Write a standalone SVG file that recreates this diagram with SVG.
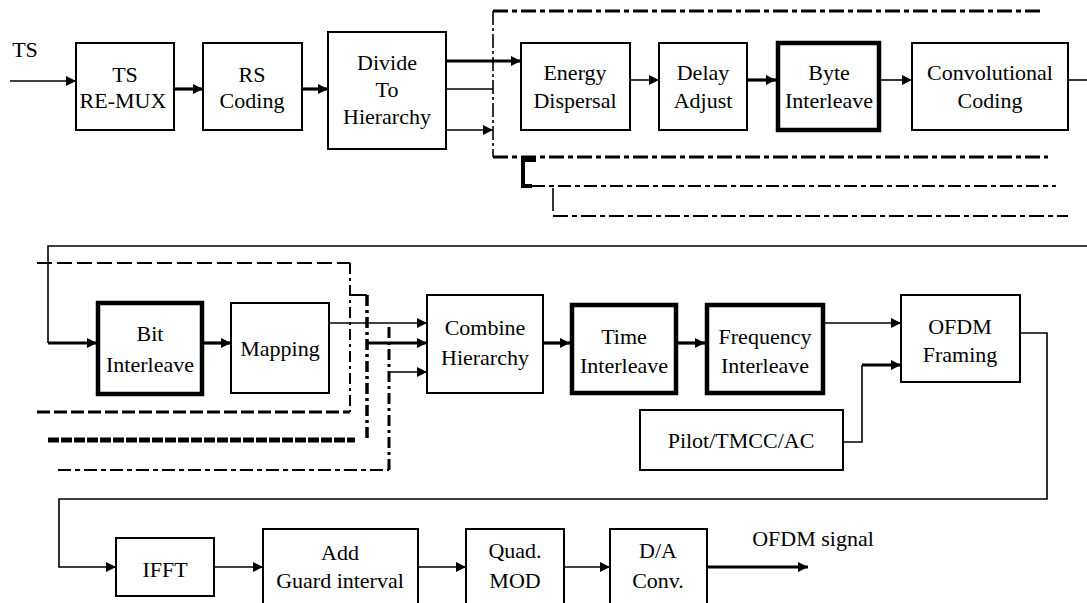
<svg xmlns="http://www.w3.org/2000/svg" width="1087" height="603" viewBox="0 0 1087 603">
<style>
.box{fill:#fff;stroke:#000;stroke-width:2}
.tbox{fill:#fff;stroke:#000;stroke-width:4.5}
.ln{fill:none;stroke:#000;stroke-width:1.6}
.lt{fill:none;stroke:#000;stroke-width:3.2}
.d{fill:none;stroke:#000}
text{font-family:'Liberation Serif','Times New Roman',Times,serif;font-size:22px;fill:#000;text-anchor:middle}
</style>
<defs>
<marker id="a" markerUnits="userSpaceOnUse" markerWidth="11" markerHeight="10" refX="10" refY="5" orient="auto"><path d="M0,0 L10,5 L0,10 z" fill="#000"/></marker>
</defs>
<rect width="1087" height="603" fill="#fff"/>

<g id="dashed">
<path class="d" stroke-width="3" stroke-dasharray="15 4 5 4" d="M493,11 H1040"/>
<path class="d" stroke-width="1.6" stroke-dasharray="14 3 3 3" d="M493,11 V157"/>
<path class="d" stroke-width="3" stroke-dasharray="15 4 5 4" d="M493,157 H1048"/>
<path class="d" stroke-width="4" d="M536,160 H523 V186 H532"/>
<path class="d" stroke-width="2" stroke-dasharray="13 4 5 4" d="M532,186 H1056"/>
<path class="d" stroke-width="1.6" d="M553,188 V211"/>
<path class="d" stroke-width="2" stroke-dasharray="15 4 5 4" d="M553,216 H1068"/>
<path class="d" stroke-width="2" stroke-dasharray="15 5" d="M37,263 H350"/>
<path class="d" stroke-width="2" stroke-dasharray="11 4 3 4" d="M350,263 V412"/>
<path class="d" stroke-width="3" stroke-dasharray="13 4" d="M37,412 H350"/>
<path class="d" stroke-width="5" stroke-dasharray="11 2" d="M48,440 H355"/>
<path class="d" stroke-width="2" d="M350,295 H367"/>
<path class="d" stroke-width="3.5" stroke-dasharray="11 4 3 4" d="M367,295 V442"/>
<path class="d" stroke-width="2" stroke-dasharray="13 4 5 4" d="M58,470 H389"/>
<path class="d" stroke-width="3" stroke-dasharray="11 4 3 4" d="M389,470 V323"/>
</g>

<g id="connectors">
<path class="ln" d="M10,81 H76" marker-end="url(#a)"/>
<path class="lt" d="M174,89 H203" marker-end="url(#a)"/>
<path class="lt" d="M302,89 H328" marker-end="url(#a)"/>
<path class="lt" d="M446,61 H521" marker-end="url(#a)"/>
<path class="ln" d="M446,89 H493"/>
<path class="ln" d="M446,130 H493" marker-end="url(#a)"/>
<path class="ln" d="M630,80 H659" marker-end="url(#a)"/>
<path class="lt" d="M747,80 H776" marker-end="url(#a)"/>
<path class="ln" d="M880,80 H912" marker-end="url(#a)"/>
<path class="ln" d="M1068,80 H1087"/>
<path class="ln" d="M1087,246 H48 V343"/>
<path class="lt" d="M48,343 H97" marker-end="url(#a)"/>
<path class="lt" d="M204,343 H231" marker-end="url(#a)"/>
<path class="ln" d="M329,323 H427" marker-end="url(#a)"/>
<path class="lt" d="M367,343 H427" marker-end="url(#a)"/>
<path class="ln" d="M389,372 H427" marker-end="url(#a)"/>
<path class="lt" d="M543,343 H570" marker-end="url(#a)"/>
<path class="lt" d="M678,343 H705" marker-end="url(#a)"/>
<path class="ln" d="M825,323 H901" marker-end="url(#a)"/>
<path class="ln" d="M843,442 H862 V365"/>
<path class="lt" d="M862,365 H901" marker-end="url(#a)"/>
<path class="ln" d="M1020,333 H1047 V499 H59 V567 H116" marker-end="url(#a)"/>
<path class="ln" d="M214,567 H263" marker-end="url(#a)"/>
<path class="ln" d="M418,567 H466" marker-end="url(#a)"/>
<path class="ln" d="M564,567 H610" marker-end="url(#a)"/>
<path class="lt" d="M707,567 H808" marker-end="url(#a)"/>
</g>

<g id="label-ts"><text x="25" y="57">TS</text></g>
<g id="label-ofdm-signal"><text x="813" y="546">OFDM signal</text></g>

<g id="ts-remux"><rect class="box" x="76" y="43" width="98" height="87"/><text x="125" y="82">TS</text><text x="123" y="108">RE-MUX</text></g>
<g id="rs-coding"><rect class="box" x="203" y="43" width="99" height="87"/><text x="252" y="82">RS</text><text x="252" y="108">Coding</text></g>
<g id="divide"><rect class="box" x="328" y="32" width="118" height="117"/><text x="387" y="70">Divide</text><text x="387" y="97">To</text><text x="387" y="124">Hierarchy</text></g>
<g id="energy"><rect class="box" x="521" y="43" width="109" height="87"/><text x="575" y="80">Energy</text><text x="575" y="108">Dispersal</text></g>
<g id="delay"><rect class="box" x="659" y="43" width="88" height="87"/><text x="703" y="80">Delay</text><text x="703" y="108">Adjust</text></g>
<g id="byte"><rect class="tbox" x="778" y="43" width="101" height="87"/><text x="829" y="80">Byte</text><text x="829" y="108">Interleave</text></g>
<g id="conv"><rect class="box" x="912" y="43" width="156" height="87"/><text x="990" y="80">Convolutional</text><text x="990" y="108">Coding</text></g>

<g id="bit"><rect class="tbox" x="98" y="303" width="104" height="91"/><text x="150" y="341">Bit</text><text x="150" y="372">Interleave</text></g>
<g id="mapping"><rect class="box" x="231" y="303" width="98" height="90"/><text x="280" y="356">Mapping</text></g>
<g id="combine"><rect class="box" x="427" y="295" width="116" height="98"/><text x="485" y="335">Combine</text><text x="485" y="365">Hierarchy</text></g>
<g id="time"><rect class="tbox" x="572" y="305" width="104" height="88"/><text x="624" y="344">Time</text><text x="624" y="373">Interleave</text></g>
<g id="freq"><rect class="tbox" x="707" y="305" width="116" height="88"/><text x="765" y="344">Frequency</text><text x="765" y="373">Interleave</text></g>
<g id="ofdm-framing"><rect class="box" x="901" y="295" width="119" height="87"/><text x="960" y="334">OFDM</text><text x="960" y="362">Framing</text></g>
<g id="pilot"><rect class="box" x="640" y="410" width="203" height="60"/><text x="741" y="448">Pilot/TMCC/AC</text></g>

<g id="ifft"><rect class="box" x="116" y="538" width="98" height="58"/><text x="165" y="577">IFFT</text></g>
<g id="guard"><rect class="box" x="263" y="529" width="155" height="80"/><text x="340" y="560">Add</text><text x="340" y="588">Guard interval</text></g>
<g id="quad"><rect class="box" x="466" y="529" width="98" height="80"/><text x="515" y="558">Quad.</text><text x="515" y="588">MOD</text></g>
<g id="da"><rect class="box" x="610" y="529" width="97" height="80"/><text x="658" y="558">D/A</text><text x="658" y="588">Conv.</text></g>
</svg>
